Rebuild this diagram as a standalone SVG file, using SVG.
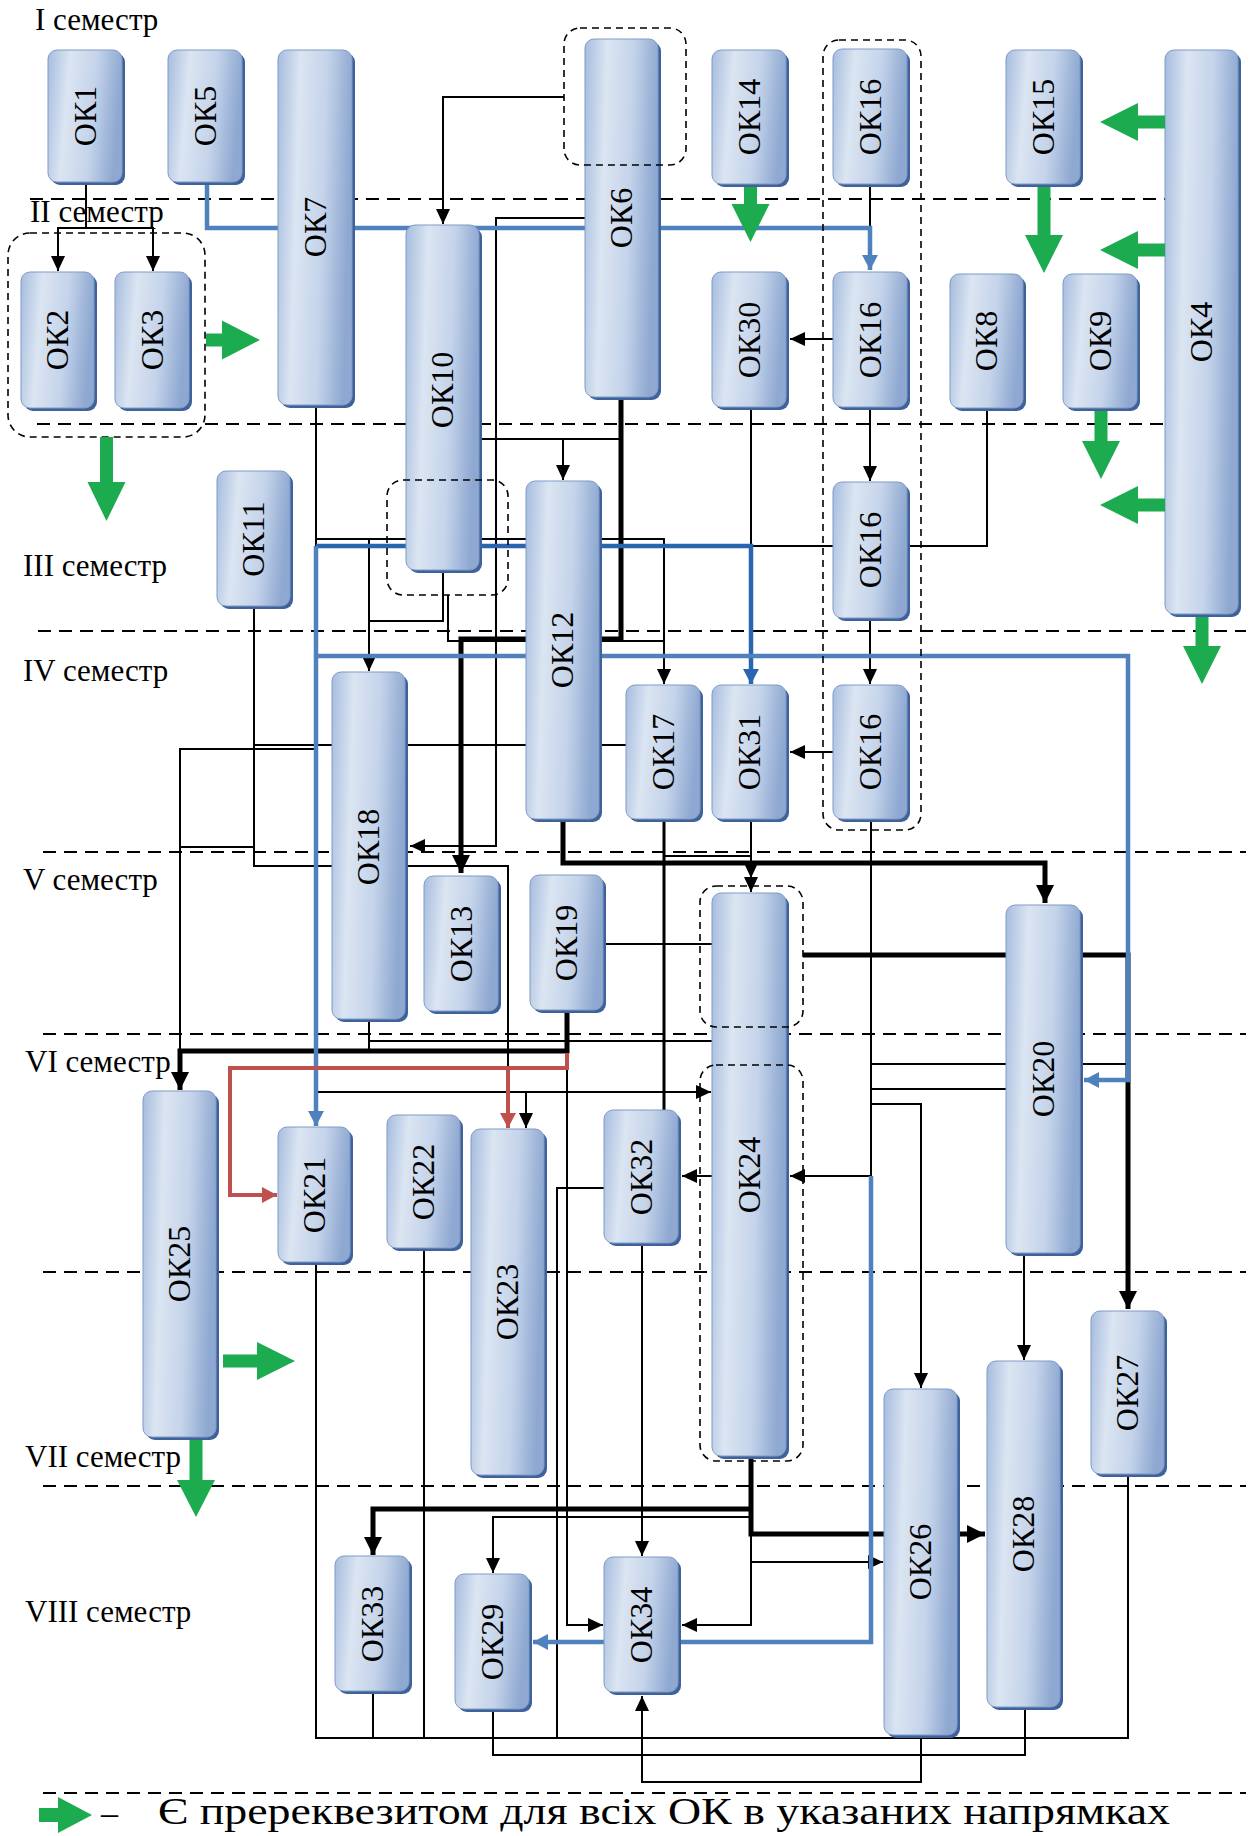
<svg xmlns="http://www.w3.org/2000/svg" width="1257" height="1836" viewBox="0 0 1257 1836">
<style>
.sem{stroke:#000;stroke-width:2;stroke-dasharray:13 8;fill:none}
.grp{stroke:#000;stroke-width:1.6;stroke-dasharray:7 5;fill:none}
.k{stroke:#000;stroke-width:2;fill:none}
.kt{stroke:#000;stroke-width:5;fill:none}
.b{stroke:#4f81bd;stroke-width:4.5;fill:none}
.b2{stroke:#2a66b0;stroke-width:4.5;fill:none}
.r{stroke:#c0504d;stroke-width:4;fill:none}
.sh{fill:#40629a}
.bx{fill:url(#ng);stroke:#7f9bc6;stroke-width:1}
.lbl{font-family:"Liberation Serif","Times New Roman",serif;font-size:32px;fill:#000;text-anchor:middle}
.st{font-family:"Liberation Serif","Times New Roman",serif;font-size:31px;fill:#000}
.gr{fill:#1dab4f}
</style>
<defs>
<linearGradient id="ng" x1="0" y1="0" x2="1" y2="0.15">
<stop offset="0" stop-color="#a6bcde"/>
<stop offset="0.3" stop-color="#dbe5f2"/>
<stop offset="0.65" stop-color="#c5d4ea"/>
<stop offset="1" stop-color="#8ea8d1"/>
</linearGradient>
<marker id="ma" viewBox="0 0 15 14" refX="15" refY="7" markerWidth="15" markerHeight="14" markerUnits="userSpaceOnUse" orient="auto"><path d="M0,0 L15,7 L0,14 Z" fill="#000"/></marker>
<marker id="mk" viewBox="0 0 18 18" refX="18" refY="9" markerWidth="18" markerHeight="18" markerUnits="userSpaceOnUse" orient="auto"><path d="M0,0 L18,9 L0,18 Z" fill="#000"/></marker>
<marker id="mb" viewBox="0 0 15 16" refX="15" refY="8" markerWidth="15" markerHeight="16" markerUnits="userSpaceOnUse" orient="auto"><path d="M0,0 L15,8 L0,16 Z" fill="#4f81bd"/></marker>
<marker id="mb2" viewBox="0 0 15 16" refX="15" refY="8" markerWidth="15" markerHeight="16" markerUnits="userSpaceOnUse" orient="auto"><path d="M0,0 L15,8 L0,16 Z" fill="#2a66b0"/></marker>
<marker id="mr" viewBox="0 0 15 16" refX="15" refY="8" markerWidth="15" markerHeight="16" markerUnits="userSpaceOnUse" orient="auto"><path d="M0,0 L15,8 L0,16 Z" fill="#c0504d"/></marker>
</defs>
<rect width="1257" height="1836" fill="#fff"/>

<g id="semester-lines">
<line class="sem" x1="30" y1="199" x2="1165" y2="199"/>
<line class="sem" x1="37" y1="424" x2="1165" y2="424"/>
<line class="sem" x1="38" y1="631" x2="1246" y2="631"/>
<line class="sem" x1="43" y1="852" x2="1246" y2="852"/>
<line class="sem" x1="43" y1="1034" x2="1246" y2="1034"/>
<line class="sem" x1="43" y1="1272" x2="1246" y2="1272"/>
<line class="sem" x1="43" y1="1486" x2="1246" y2="1486"/>
<line class="sem" x1="43" y1="1793" x2="1246" y2="1793"/>
</g>

<g id="connectors">
<path class="k" d="M86,185 V228 H58 V271" marker-end="url(#ma)"/>
<path class="k" d="M86,228 H153 V271" marker-end="url(#ma)"/>
<path class="k" d="M564,97 H443 V224" marker-end="url(#ma)"/>
<path class="k" d="M585,218 H496 V846 H410" marker-end="url(#ma)"/>
<path class="k" d="M621,439 H449 V479" marker-end="url(#ma)"/>
<path class="k" d="M563,439 V480" marker-end="url(#ma)"/>
<path class="k" d="M870,187 V228"/>
<path class="k" d="M833,339 H790" marker-end="url(#ma)"/>
<path class="k" d="M870,407 V481" marker-end="url(#ma)"/>
<path class="k" d="M870,618 V684" marker-end="url(#ma)"/>
<path class="k" d="M833,752 H790" marker-end="url(#ma)"/>
<path class="k" d="M987,408 V546 H751"/>
<path class="k" d="M751,407 V546"/>
<path class="k" d="M316,405 V749 H180 V1051"/>
<path class="k" d="M316,539 H664 V684" marker-end="url(#ma)"/>
<path class="k" d="M369,539 V671" marker-end="url(#ma)"/>
<path class="k" d="M443,570 V621 H369"/>
<path class="k" d="M448,595 V641 H664"/>
<path class="k" d="M254,606 V866 H508 V1068"/>
<path class="k" d="M626,745 H254"/>
<path class="k" d="M180,847 H254"/>
<path class="k" d="M664,856 H751"/>
<path class="k" d="M751,819 V892" marker-end="url(#ma)"/>
<path class="k" d="M751,856 V878" marker-end="url(#ma)"/>
<path d="M664,819 V1110" stroke="#000" stroke-width="3" fill="none"/>
<path class="k" d="M871,819 V1176 H790" marker-end="url(#ma)"/>
<path class="k" d="M871,1064 H1126"/>
<path class="k" d="M871,1089 H1006"/>
<path class="k" d="M871,1104 H921 V1388" marker-end="url(#ma)"/>
<path class="k" d="M1024,1253 V1360" marker-end="url(#ma)"/>
<path class="k" d="M606,944 H752 V1064" marker-end="url(#ma)"/>
<path class="k" d="M369,1019 V1051"/>
<path class="k" d="M369,1041 H752"/>
<path class="k" d="M567,1051 V1625 H603" marker-end="url(#ma)"/>
<path class="k" d="M316,1092 H711" marker-end="url(#ma)"/>
<path class="k" d="M526,1092 V1128" marker-end="url(#ma)"/>
<path class="k" d="M712,1176 H682" marker-end="url(#ma)"/>
<path class="k" d="M642,1243 V1556" marker-end="url(#ma)"/>
<path class="k" d="M604,1188 H557 V1737"/>
<path class="k" d="M751,1517 H493 V1573" marker-end="url(#ma)"/>
<path class="k" d="M751,1534 V1625 H682" marker-end="url(#ma)"/>
<path class="k" d="M751,1562 H883" marker-end="url(#ma)"/>
<path class="k" d="M316,1262 V1738 H1128 V1474"/>
<path class="k" d="M373,1691 V1738"/>
<path class="k" d="M424,1248 V1738"/>
<path class="k" d="M493,1709 V1755 H1025 V1706"/>
<path class="k" d="M921,1735 V1782 H642 V1696" marker-end="url(#ma)"/>
<path class="kt" d="M621,398 V639 H461 V873" marker-end="url(#mk)"/>
<path class="kt" d="M563,819 V863 H1045 V903" marker-end="url(#mk)"/>
<path class="kt" d="M567,1010 V1051 H180 V1090" marker-end="url(#mk)"/>
<path class="kt" d="M803,955 H1128 V1309" marker-end="url(#mk)"/>
<path class="kt" d="M751,1456 V1534 H985" marker-end="url(#mk)"/>
<path class="kt" d="M751,1509 H373 V1555" marker-end="url(#mk)"/>
<path class="b" d="M207,185 V228 H870 V270" marker-end="url(#mb)"/>
<path class="b2" d="M316,546 H751 V684" marker-end="url(#mb2)"/>
<path class="b" d="M316,656 H1128 V1080 H1084" marker-end="url(#mb)"/>
<path class="b" d="M316,546 V1126" marker-end="url(#mb)"/>
<path class="b" d="M871,1176 V1642 H533" marker-end="url(#mb)"/>
<path class="r" d="M567,1053 V1068 H230 V1195 H277" marker-end="url(#mr)"/>
<path class="r" d="M508,1068 V1128" marker-end="url(#mr)"/>
</g>

<g id="ok1"><rect class="sh" x="51" y="53" width="74" height="132" rx="9"/><rect class="bx" x="48" y="50" width="74" height="132" rx="9"/><text class="lbl" transform="translate(96,116) rotate(-90)">ОК1</text></g>
<g id="ok5"><rect class="sh" x="171" y="53" width="74" height="132" rx="9"/><rect class="bx" x="168" y="50" width="74" height="132" rx="9"/><text class="lbl" transform="translate(216,116) rotate(-90)">ОК5</text></g>
<g id="ok7"><rect class="sh" x="281" y="53" width="74" height="355" rx="9"/><rect class="bx" x="278" y="50" width="74" height="355" rx="9"/><text class="lbl" transform="translate(326,227) rotate(-90)">ОК7</text></g>
<g id="ok6"><rect class="sh" x="588" y="42" width="73" height="358" rx="9"/><rect class="bx" x="585" y="39" width="73" height="358" rx="9"/><text class="lbl" transform="translate(632,218) rotate(-90)">ОК6</text></g>
<g id="ok14"><rect class="sh" x="715" y="53" width="74" height="134" rx="9"/><rect class="bx" x="712" y="50" width="74" height="134" rx="9"/><text class="lbl" transform="translate(760,117) rotate(-90)">ОК14</text></g>
<g id="ok16a"><rect class="sh" x="836" y="52" width="74" height="135" rx="9"/><rect class="bx" x="833" y="49" width="74" height="135" rx="9"/><text class="lbl" transform="translate(881,117) rotate(-90)">ОК16</text></g>
<g id="ok15"><rect class="sh" x="1009" y="53" width="74" height="134" rx="9"/><rect class="bx" x="1006" y="50" width="74" height="134" rx="9"/><text class="lbl" transform="translate(1054,117) rotate(-90)">ОК15</text></g>
<g id="ok4"><rect class="sh" x="1168" y="53" width="73" height="564" rx="9"/><rect class="bx" x="1165" y="50" width="73" height="564" rx="9"/><text class="lbl" transform="translate(1212,332) rotate(-90)">ОК4</text></g>
<g id="ok2"><rect class="sh" x="24" y="275" width="73" height="136" rx="9"/><rect class="bx" x="21" y="272" width="73" height="136" rx="9"/><text class="lbl" transform="translate(68,340) rotate(-90)">ОК2</text></g>
<g id="ok3"><rect class="sh" x="118" y="275" width="74" height="136" rx="9"/><rect class="bx" x="115" y="272" width="74" height="136" rx="9"/><text class="lbl" transform="translate(163,340) rotate(-90)">ОК3</text></g>
<g id="ok10"><rect class="sh" x="409" y="228" width="73" height="345" rx="9"/><rect class="bx" x="406" y="225" width="73" height="345" rx="9"/><text class="lbl" transform="translate(453,390) rotate(-90)">ОК10</text></g>
<g id="ok30"><rect class="sh" x="715" y="275" width="74" height="135" rx="9"/><rect class="bx" x="712" y="272" width="74" height="135" rx="9"/><text class="lbl" transform="translate(760,340) rotate(-90)">ОК30</text></g>
<g id="ok16b"><rect class="sh" x="836" y="275" width="74" height="135" rx="9"/><rect class="bx" x="833" y="272" width="74" height="135" rx="9"/><text class="lbl" transform="translate(881,340) rotate(-90)">ОК16</text></g>
<g id="ok8"><rect class="sh" x="953" y="277" width="73" height="134" rx="9"/><rect class="bx" x="950" y="274" width="73" height="134" rx="9"/><text class="lbl" transform="translate(997,341) rotate(-90)">ОК8</text></g>
<g id="ok9"><rect class="sh" x="1066" y="277" width="74" height="134" rx="9"/><rect class="bx" x="1063" y="274" width="74" height="134" rx="9"/><text class="lbl" transform="translate(1111,341) rotate(-90)">ОК9</text></g>
<g id="ok11"><rect class="sh" x="220" y="474" width="73" height="135" rx="9"/><rect class="bx" x="217" y="471" width="73" height="135" rx="9"/><text class="lbl" transform="translate(264,539) rotate(-90)">ОК11</text></g>
<g id="ok12"><rect class="sh" x="529" y="484" width="73" height="338" rx="9"/><rect class="bx" x="526" y="481" width="73" height="338" rx="9"/><text class="lbl" transform="translate(573,650) rotate(-90)">ОК12</text></g>
<g id="ok16c"><rect class="sh" x="836" y="485" width="74" height="136" rx="9"/><rect class="bx" x="833" y="482" width="74" height="136" rx="9"/><text class="lbl" transform="translate(881,550) rotate(-90)">ОК16</text></g>
<g id="ok17"><rect class="sh" x="629" y="688" width="74" height="134" rx="9"/><rect class="bx" x="626" y="685" width="74" height="134" rx="9"/><text class="lbl" transform="translate(674,752) rotate(-90)">ОК17</text></g>
<g id="ok31"><rect class="sh" x="715" y="688" width="74" height="134" rx="9"/><rect class="bx" x="712" y="685" width="74" height="134" rx="9"/><text class="lbl" transform="translate(760,752) rotate(-90)">ОК31</text></g>
<g id="ok16d"><rect class="sh" x="836" y="688" width="74" height="134" rx="9"/><rect class="bx" x="833" y="685" width="74" height="134" rx="9"/><text class="lbl" transform="translate(881,752) rotate(-90)">ОК16</text></g>
<g id="ok18"><rect class="sh" x="335" y="675" width="73" height="347" rx="9"/><rect class="bx" x="332" y="672" width="73" height="347" rx="9"/><text class="lbl" transform="translate(379,847) rotate(-90)">ОК18</text></g>
<g id="ok13"><rect class="sh" x="427" y="879" width="74" height="135" rx="9"/><rect class="bx" x="424" y="876" width="74" height="135" rx="9"/><text class="lbl" transform="translate(472,944) rotate(-90)">ОК13</text></g>
<g id="ok19"><rect class="sh" x="533" y="878" width="73" height="135" rx="9"/><rect class="bx" x="530" y="875" width="73" height="135" rx="9"/><text class="lbl" transform="translate(577,943) rotate(-90)">ОК19</text></g>
<g id="ok24"><rect class="sh" x="715" y="896" width="74" height="563" rx="9"/><rect class="bx" x="712" y="893" width="74" height="563" rx="9"/><text class="lbl" transform="translate(760,1175) rotate(-90)">ОК24</text></g>
<g id="ok20"><rect class="sh" x="1009" y="908" width="74" height="348" rx="9"/><rect class="bx" x="1006" y="905" width="74" height="348" rx="9"/><text class="lbl" transform="translate(1054,1079) rotate(-90)">ОК20</text></g>
<g id="ok25"><rect class="sh" x="146" y="1094" width="73" height="346" rx="9"/><rect class="bx" x="143" y="1091" width="73" height="346" rx="9"/><text class="lbl" transform="translate(190,1264) rotate(-90)">ОК25</text></g>
<g id="ok21"><rect class="sh" x="281" y="1130" width="72" height="135" rx="9"/><rect class="bx" x="278" y="1127" width="72" height="135" rx="9"/><text class="lbl" transform="translate(325,1195) rotate(-90)">ОК21</text></g>
<g id="ok22"><rect class="sh" x="390" y="1118" width="73" height="133" rx="9"/><rect class="bx" x="387" y="1115" width="73" height="133" rx="9"/><text class="lbl" transform="translate(434,1182) rotate(-90)">ОК22</text></g>
<g id="ok23"><rect class="sh" x="474" y="1132" width="73" height="346" rx="9"/><rect class="bx" x="471" y="1129" width="73" height="346" rx="9"/><text class="lbl" transform="translate(518,1302) rotate(-90)">ОК23</text></g>
<g id="ok32"><rect class="sh" x="607" y="1113" width="74" height="133" rx="9"/><rect class="bx" x="604" y="1110" width="74" height="133" rx="9"/><text class="lbl" transform="translate(652,1177) rotate(-90)">ОК32</text></g>
<g id="ok27"><rect class="sh" x="1094" y="1314" width="73" height="163" rx="9"/><rect class="bx" x="1091" y="1311" width="73" height="163" rx="9"/><text class="lbl" transform="translate(1138,1393) rotate(-90)">ОК27</text></g>
<g id="ok26"><rect class="sh" x="887" y="1392" width="73" height="346" rx="9"/><rect class="bx" x="884" y="1389" width="73" height="346" rx="9"/><text class="lbl" transform="translate(931,1562) rotate(-90)">ОК26</text></g>
<g id="ok28"><rect class="sh" x="990" y="1364" width="73" height="346" rx="9"/><rect class="bx" x="987" y="1361" width="73" height="346" rx="9"/><text class="lbl" transform="translate(1034,1534) rotate(-90)">ОК28</text></g>
<g id="ok33"><rect class="sh" x="338" y="1559" width="74" height="135" rx="9"/><rect class="bx" x="335" y="1556" width="74" height="135" rx="9"/><text class="lbl" transform="translate(383,1624) rotate(-90)">ОК33</text></g>
<g id="ok29"><rect class="sh" x="458" y="1577" width="74" height="135" rx="9"/><rect class="bx" x="455" y="1574" width="74" height="135" rx="9"/><text class="lbl" transform="translate(503,1642) rotate(-90)">ОК29</text></g>
<g id="ok34"><rect class="sh" x="607" y="1560" width="74" height="135" rx="9"/><rect class="bx" x="604" y="1557" width="74" height="135" rx="9"/><text class="lbl" transform="translate(652,1625) rotate(-90)">ОК34</text></g>

<g id="groups">
<rect class="grp" x="8" y="233" width="197" height="204" rx="22"/>
<rect class="grp" x="564" y="28" width="122" height="137" rx="16"/>
<rect class="grp" x="823" y="40" width="98" height="790" rx="16"/>
<rect class="grp" x="387" y="480" width="121" height="115" rx="16"/>
<rect class="grp" x="700" y="886" width="103" height="141" rx="16"/>
<rect class="grp" x="700" y="1065" width="103" height="396" rx="16"/>
</g>

<g id="green-arrows">
<polygon class="gr" points="206,333.5 222,333.5 222,320.5 260,340 222,359.5 222,346.5 206,346.5"/>
<polygon class="gr" points="100,437 113,437 113,482 125.5,482 106.5,521 87.5,482 100,482"/>
<polygon class="gr" points="744,187 757,187 757,204 769.5,204 750.5,242 731.5,204 744,204"/>
<polygon class="gr" points="1165,115.5 1138,115.5 1138,103 1100,122 1138,141 1138,128.5 1165,128.5"/>
<polygon class="gr" points="1037.5,187 1050.5,187 1050.5,235 1063,235 1044,273 1025,235 1037.5,235"/>
<polygon class="gr" points="1165,243.5 1138,243.5 1138,231 1100,250 1138,269 1138,256.5 1165,256.5"/>
<polygon class="gr" points="1094.5,411 1107.5,411 1107.5,441 1120,441 1101,479 1082,441 1094.5,441"/>
<polygon class="gr" points="1165,498.5 1138,498.5 1138,486 1100,505 1138,524 1138,511.5 1165,511.5"/>
<polygon class="gr" points="1195.5,617 1208.5,617 1208.5,646 1221,646 1202,684 1183,646 1195.5,646"/>
<polygon class="gr" points="223,1354.5 257,1354.5 257,1342 295,1361 257,1380 257,1367.5 223,1367.5"/>
<polygon class="gr" points="189.5,1440 202.5,1440 202.5,1480 215,1480 196,1517 177,1480 189.5,1480"/>
<polygon class="gr" points="39,1808 58,1808 58,1797 92,1815 58,1833 58,1822 39,1822"/>
</g>

<g id="labels">
<text class="st" x="35" y="30">I семестр</text>
<text class="st" x="30" y="222">II семестр</text>
<text class="st" x="23" y="576">III семестр</text>
<text class="st" x="23" y="681">IV семестр</text>
<text class="st" x="23" y="890">V семестр</text>
<text class="st" x="25" y="1072">VI семестр</text>
<text class="st" x="25" y="1467">VII семестр</text>
<text class="st" x="25" y="1622">VIII семестр</text>
<text class="st" x="101" y="1824" style="font-size:34px">–</text>
<text class="st" x="158" y="1824" style="font-size:37px" textLength="1012" lengthAdjust="spacingAndGlyphs">Є пререквезитом для всіх ОК в указаних напрямках</text>
</g>
</svg>
